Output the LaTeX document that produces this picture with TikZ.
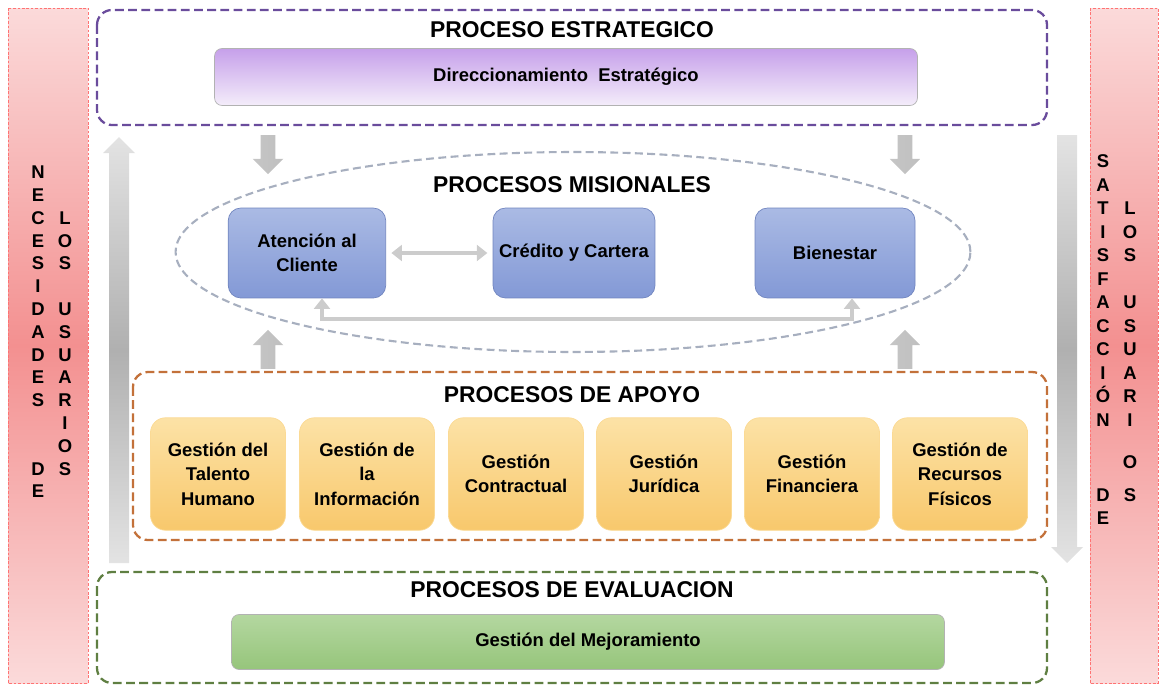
\documentclass[tikz,border=0pt]{standalone}
\usepackage{fontspec}
\setmainfont{Liberation Sans}
\usetikzlibrary{shapes.arrows,arrows.meta}

\definecolor{pinklight}{HTML}{FBDADA}
\definecolor{pinkdark}{HTML}{F39090}
\definecolor{purpleline}{HTML}{6A4C9C}
\definecolor{purpletop}{HTML}{C6A0EA}
\definecolor{purplebot}{HTML}{F4EDFA}
\definecolor{ovalline}{HTML}{A7AFBF}
\definecolor{bluetop}{HTML}{AABAE4}
\definecolor{bluebot}{HTML}{8399D6}
\definecolor{blueline}{HTML}{7185BF}
\definecolor{orangeline}{HTML}{C3713A}
\definecolor{orangetop}{HTML}{FCE2A6}
\definecolor{orangebot}{HTML}{F8C86C}
\definecolor{greenline}{HTML}{5F7F42}
\definecolor{greentop}{HTML}{B4D7A0}
\definecolor{greenbot}{HTML}{96C57B}

\tikzset{
  sidebar/.style={draw=red!55, line width=0.4pt, dash pattern=on 1.5pt off 1pt,
    top color=pinklight, bottom color=pinklight, middle color=pinkdark},
  frame/.style={line width=1.3pt, dash pattern=on 5pt off 2.5pt, rounded corners=0.3cm},
  title/.style={font=\fontsize{13}{16}\selectfont\bfseries, inner sep=0pt},
  letter/.style={font=\fontsize{10.5}{12}\selectfont\bfseries, inner sep=0pt,
    text height=7.6pt, text depth=0pt},
  boxtext/.style={font=\fontsize{10.5}{14}\selectfont\bfseries, align=center},
  bar/.style={boxtext, draw=gray!60, rounded corners=0.15cm},
  misional/.style={boxtext, draw=blueline, rounded corners=0.25cm,
    top color=bluetop, bottom color=bluebot, minimum width=3.15cm, minimum height=1.8cm},
  apoyo/.style={boxtext, draw=orangetop!70!orangebot, rounded corners=0.3cm,
    top color=orangetop, bottom color=orangebot, minimum width=2.7cm, minimum height=2.25cm},
  bigarrow/.style={top color=gray!22, bottom color=gray!22, middle color=gray!62},
  smallarrow/.style={single arrow, inner sep=0pt, text height=0.28cm, text depth=0pt,
    minimum height=0.78cm, single arrow head extend=0.16cm,
    left color=gray!45, middle color=gray!75, right color=gray!50},
  conn/.style={draw=gray!40, line width=2.4pt,
    {Triangle[width=9pt,length=6pt]}-{Triangle[width=9pt,length=6pt]}}
}

\begin{document}
\begin{tikzpicture}[x=0.02cm,y=-0.02cm]
\useasboundingbox (0,0) rectangle (1165,690);

% barras laterales
\path[sidebar] (8,8) rectangle (88,683);
\path[sidebar] (1090,8) rectangle (1158,683);
\foreach \r/\l in {0/N,1/E,2/C,3/E,4/S,5/I,6/D,7/A,8/D,9/E,10/S,13/D,14/E}
  \node[letter] (nec\r) at (38,{172+22.8*\r}) {\l};
\foreach \r/\l in {2/L,3/O,4/S,6/U,7/S,8/U,9/A,10/R,11/I,12/O,13/S}
  \node[letter] (usl\r) at (65,{172+22.8*\r}) {\l};
\foreach \r/\l in {0/S,1/A,2/T,3/I,4/S,5/F,6/A,7/C,8/C,9/I,10/Ó,11/N,14.2/D,15.2/E}
  \node[letter] (sat\r) at (1103,{161+23.5*\r}) {\l};
\foreach \r/\l in {2/L,3/O,4/S,6/U,7/S,8/U,9/A,10/R,11/I,12.8/O,14.2/S}
  \node[letter] (usr\r) at (1130,{161+23.5*\r}) {\l};

% flechas grandes
\shade[bigarrow] (109,563) -- (109,153) -- (103,153) -- (119,137) -- (135,153) -- (129,153) -- (129,563) -- cycle;
\shade[bigarrow] (1057,135) -- (1057,547) -- (1051,547) -- (1067,563) -- (1083,547) -- (1077,547) -- (1077,135) -- cycle;

% proceso estrategico
\draw[frame, draw=purpleline] (97,10) rectangle (1047,125);
\node[title] (testr) at (572,30) {PROCESO ESTRATEGICO};
\node[bar, top color=purpletop, bottom color=purplebot,
  minimum width=14.06cm, minimum height=1.14cm] (direc) at (566,77) {Direccionamiento\ \ Estratégico};

\node[smallarrow, rotate=-90] (bajaizq) at (268,151) {};
\node[smallarrow, rotate=-90] (bajader) at (905,151) {};

% procesos misionales
\draw[ovalline, line width=1.2pt, dash pattern=on 4.5pt off 2.5pt] (573,252) ellipse [x radius=7.95cm, y radius=2cm];
\node[title] (tmis) at (572,185) {PROCESOS MISIONALES};
\node[misional] (atc) at (307,253) {Atención al\\Cliente};
\node[misional, minimum width=3.24cm] (cyc) at (574,253) {Crédito y Cartera};
\node[misional, minimum width=3.2cm] (bien) at (835,253) {Bienestar};
\draw[conn, shorten <=3pt, shorten >=3pt] (atc.east) -- (cyc.west);
\draw[conn] ([xshift=0.3cm]atc.south) -- ++(0,21) -| ([xshift=0.34cm]bien.south);

\node[smallarrow, rotate=90] (subeizq) at (268,353) {};
\node[smallarrow, rotate=90] (subeder) at (905,353) {};

% procesos de apoyo
\draw[frame, draw=orangeline] (133,372) rectangle (1047,540);
\node[title] (tapo) at (572,395) {PROCESOS DE APOYO};
\node[apoyo] (talento) at (218,474) {Gestión del\\Talento\\Humano};
\node[apoyo] (informacion) at (367,474) {Gestión de\\la\\Información};
\node[apoyo] (contractual) at (516,474) {Gestión\\Contractual};
\node[apoyo] (juridica) at (664,474) {Gestión\\Jurídica};
\node[apoyo] (financiera) at (812,474) {Gestión\\Financiera};
\node[apoyo] (fisicos) at (960,474) {Gestión de\\Recursos\\Físicos};

% procesos de evaluacion
\draw[frame, draw=greenline] (97,572) rectangle (1047,683);
\node[title] (teval) at (572,590) {PROCESOS DE EVALUACION};
\node[bar, top color=greentop, bottom color=greenbot,
  minimum width=14.26cm, minimum height=1.1cm] (mejora) at (588,642) {Gestión del Mejoramiento};
\end{tikzpicture}
\end{document}
